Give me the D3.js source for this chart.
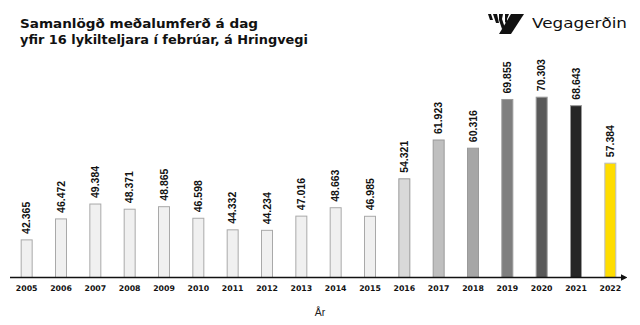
<!DOCTYPE html>
<html><head><meta charset="utf-8">
<script src="https://cdn.jsdelivr.net/npm/d3@7"></script>
<style>html,body{margin:0;padding:0;background:#fff;}svg{display:block;}</style>
</head><body>
<script>
const years = ["2005","2006","2007","2008","2009","2010","2011","2012","2013","2014","2015","2016","2017","2018","2019","2020","2021","2022"];
const values = [42.365,46.472,49.384,48.371,48.865,46.598,44.332,44.234,47.016,48.663,46.985,54.321,61.923,60.316,69.855,70.303,68.643,57.384];
const valueLabels = ["42.365","46.472","49.384","48.371","48.865","46.598","44.332","44.234","47.016","48.663","46.985","54.321","61.923","60.316","69.855","70.303","68.643","57.384"];
const fills = ["#f0f0f0","#f0f0f0","#f0f0f0","#f0f0f0","#f0f0f0","#f0f0f0","#f0f0f0","#f0f0f0","#f0f0f0","#f0f0f0","#f0f0f0","#d9d9d9","#bfbfbf","#a6a6a6","#7f7f7f","#595959","#262626","#ffdd00"];
const titleLines = ["Samanlögð meðalumferð á dag","yfir 16 lykilteljara í febrúar, á Hringvegi"];
const xTitle = "År";

const W = 640, H = 325;
const svg = d3.select("body").append("svg").attr("width", W).attr("height", H);

const x = d3.scaleBand().domain(years).range([9.5, 627.5]).paddingInner(0.68).paddingOuter(0.34);
const y = d3.scaleLinear().domain([35, 75]).range([277.5, 73.2]);

// bars
svg.append("g").selectAll("rect").data(years).join("rect")
  .attr("x", d => x(d))
  .attr("width", x.bandwidth())
  .attr("y", (d,i) => y(values[i]))
  .attr("height", (d,i) => y(35) - y(values[i]))
  .attr("fill", (d,i) => fills[i])
  .attr("stroke", (d,i) => i < 11 ? "#a9a9a9" : (i === 17 ? "#b8bcc8" : "#9a9a9a"))
  .attr("stroke-width", 1);

// value labels
svg.append("g").selectAll("text").data(years).join("text")
  .attr("transform", (d,i) => `translate(${x(d) + x.bandwidth()/2 + 3.8},${y(values[i]) - 6}) rotate(-90)`)
  .attr("font-family", "Liberation Sans, Arial, sans-serif")
  .attr("font-weight", "bold")
  .attr("font-size", "10.5px")
  .attr("fill", "#111")
  .text((d,i) => valueLabels[i]);

// axis
const axis = d3.axisBottom(x).tickSize(0).tickPadding(8);
const gx = svg.append("g").attr("transform", `translate(0,${y(35)})`).call(axis);
gx.select(".domain").remove();
gx.selectAll("text")
  .attr("font-family", "DejaVu Sans, sans-serif")
  .attr("font-weight", "bold")
  .attr("font-size", "7.8px")
  .attr("fill", "#111");

svg.append("defs").append("marker")
  .attr("id","arr").attr("viewBox","0 0 10 10").attr("refX",0).attr("refY",5)
  .attr("markerWidth",4).attr("markerHeight",4).attr("orient","auto")
  .append("path").attr("d","M0,0L10,5L0,10z").attr("fill","#111");
svg.append("line").attr("x1", 10).attr("x2", 621).attr("y1", y(35)).attr("y2", y(35))
  .attr("stroke", "#111").attr("stroke-width", 1.6).attr("marker-end","url(#arr)");

svg.append("text").attr("x", 320).attr("y", 316).attr("text-anchor","middle")
  .attr("font-family","Liberation Sans, Arial, sans-serif").attr("font-size","10.5px").attr("fill","#222")
  .text(xTitle);

// title
const tl = [258, 308];
titleLines.forEach((t,i) => {
  svg.append("text").attr("x", 20).attr("y", 27.5 + i*16)
    .attr("font-family","DejaVu Sans, sans-serif").attr("font-weight","bold").attr("font-size","13px")
    .attr("fill","#111").attr("textLength", tl[i]-20).attr("lengthAdjust","spacingAndGlyphs")
    .text(t);
});

// logo
const lg = svg.append("g").attr("fill","#111");
lg.append("path").attr("d","M511,14 L524,14 L511,34 L499,34 Z");
lg.append("path").attr("d","M488,14 L491,14 L493,20 L490,20 Z");
lg.append("path").attr("d","M493,14 L497,14 L499,23 L496,23 Z");
lg.append("path").attr("d","M499,14 L503,14 L502,19 L505,28 L502,29 L499,20 Z");
lg.append("path").attr("d","M505,14 L509,14 L507,19 L507,24 L505,22 Z");
lg.append("text").attr("x", 532).attr("y", 27.5)
  .attr("font-family","DejaVu Sans, sans-serif").attr("font-size","14.5px").attr("fill","#111")
  .attr("textLength", 95).attr("lengthAdjust","spacingAndGlyphs")
  .text("Vegagerðin");
</script>
</body></html>
